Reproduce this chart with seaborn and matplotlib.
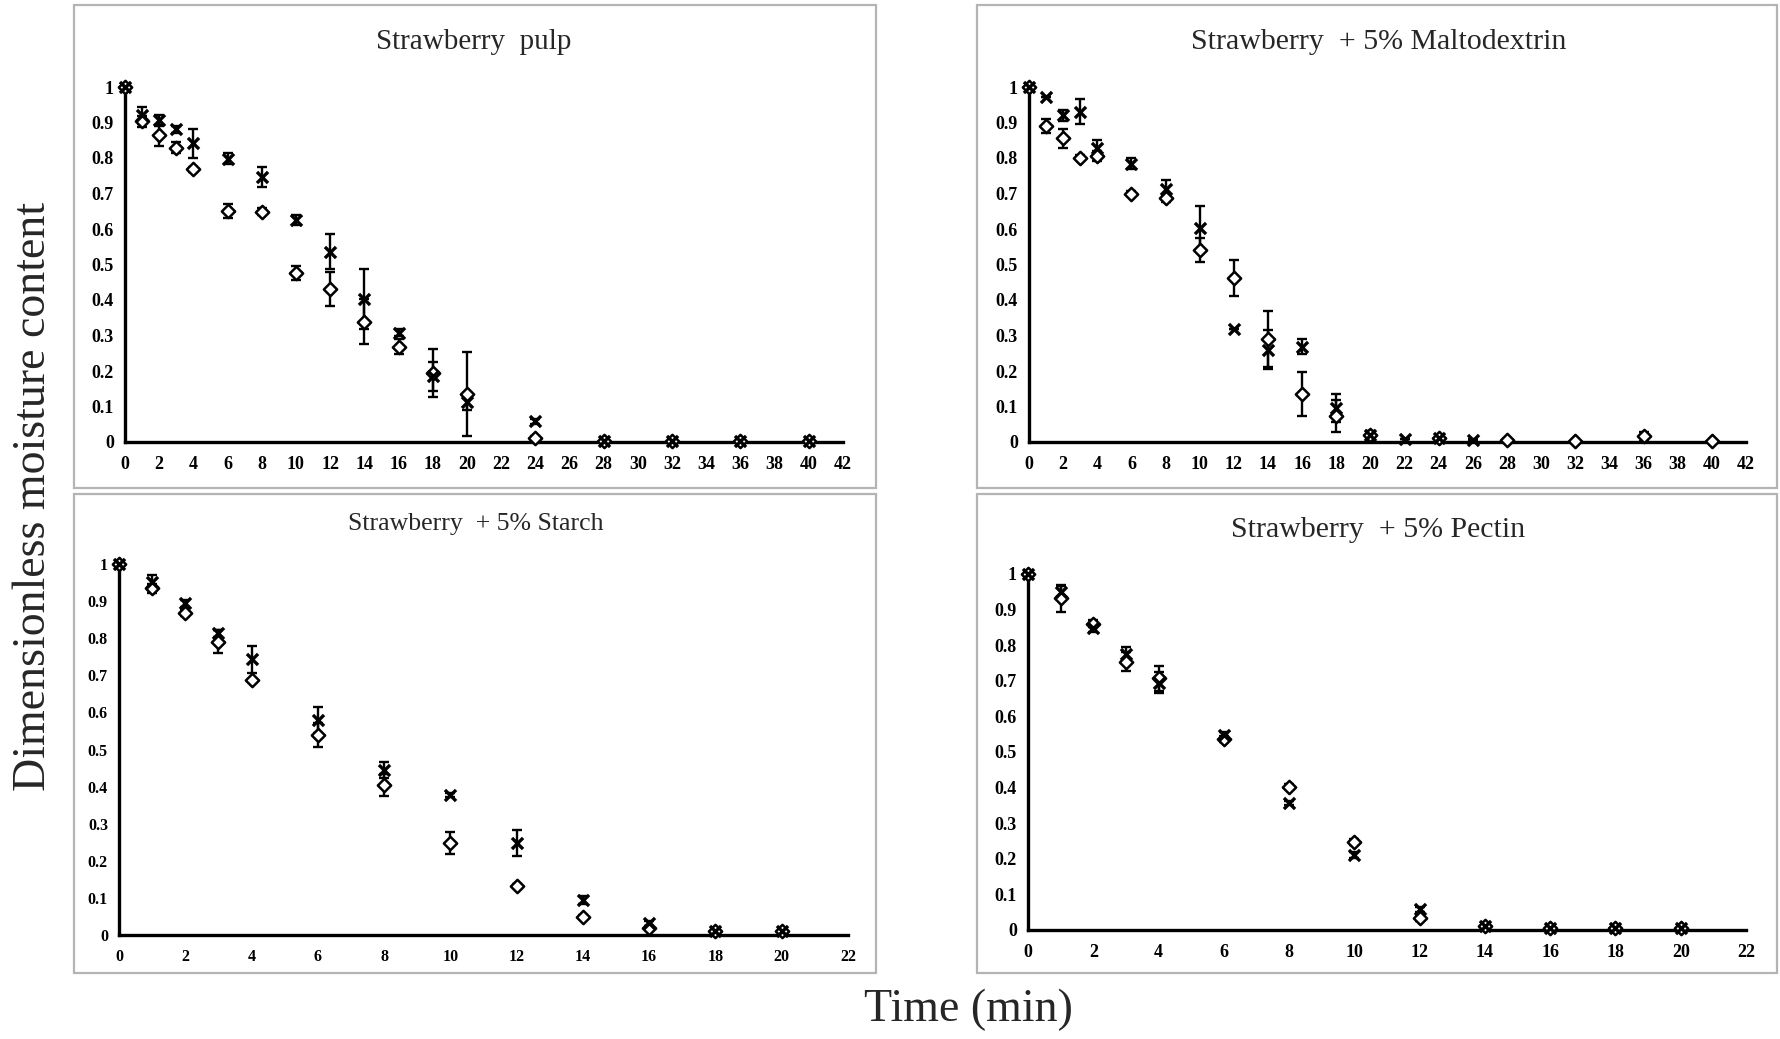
import matplotlib
matplotlib.use("Agg")
import matplotlib.pyplot as plt
from matplotlib.patches import Rectangle
import seaborn as sns
import numpy as np

# ---- data: dimensionless moisture content vs drying time (min) ----
# Strawberry pulp
pulp_t = [0, 1, 2, 3, 4, 6, 8, 10, 12, 14, 16, 18, 20, 24, 28, 32, 36, 40]
pulp_d = [1.0, 0.903, 0.864, 0.829, 0.768, 0.651, 0.649, 0.475, 0.431, 0.339, 0.269, 0.194, 0.136, 0.011, 0.003, 0.002, 0.002, 0.002]
pulp_d_err = [0.005, 0.015, 0.03, 0.015, 0.007, 0.02, 0.01, 0.02, 0.047, 0.063, 0.02, 0.067, 0.118, 0.005, 0.003, 0.002, 0.002, 0.002]
pulp_x = [1.0, 0.92, 0.906, 0.881, 0.841, 0.798, 0.747, 0.625, 0.536, 0.402, 0.308, 0.185, 0.114, 0.058, 0.004, 0.003, 0.003, 0.003]
pulp_x_err = [0.005, 0.025, 0.015, 0.01, 0.04, 0.015, 0.028, 0.015, 0.05, 0.084, 0.01, 0.04, 0.025, 0.008, 0.003, 0.003, 0.003, 0.003]

# Strawberry + 5% Maltodextrin
malto_td = [0, 1, 2, 3, 4, 6, 8, 10, 12, 14, 16, 18, 20, 24, 28, 32, 36, 40]
malto_d = [1.0, 0.890, 0.855, 0.801, 0.806, 0.700, 0.686, 0.541, 0.461, 0.290, 0.135, 0.072, 0.02, 0.01, 0.005, 0.002, 0.016, 0.002]
malto_d_err = [0.005, 0.02, 0.028, 0.008, 0.015, 0.008, 0.01, 0.033, 0.051, 0.08, 0.063, 0.045, 0.01, 0.005, 0.003, 0.002, 0.012, 0.002]
malto_tx = [0, 1, 2, 3, 4, 6, 8, 10, 12, 14, 16, 18, 20, 22, 24, 26]
malto_x = [1.0, 0.972, 0.920, 0.930, 0.827, 0.784, 0.714, 0.602, 0.318, 0.260, 0.269, 0.095, 0.02, 0.008, 0.01, 0.005]
malto_x_err = [0.005, 0.0, 0.015, 0.035, 0.025, 0.015, 0.025, 0.062, 0.0, 0.055, 0.022, 0.04, 0.01, 0.0, 0.005, 0.003]

# Strawberry + 5% Starch
starch_t = [0, 1, 2, 3, 4, 6, 8, 10, 12, 14, 16, 18, 20]
starch_d = [1.0, 0.934, 0.867, 0.791, 0.686, 0.539, 0.404, 0.247, 0.132, 0.049, 0.018, 0.012, 0.012]
starch_d_err = [0.003, 0.012, 0.008, 0.03, 0.005, 0.033, 0.03, 0.03, 0.005, 0.005, 0.005, 0.004, 0.004]
starch_x = [1.0, 0.952, 0.894, 0.813, 0.743, 0.580, 0.445, 0.377, 0.247, 0.094, 0.031, 0.012, 0.012]
starch_x_err = [0.003, 0.018, 0.01, 0.01, 0.036, 0.035, 0.022, 0.005, 0.035, 0.01, 0.008, 0.005, 0.005]

# Strawberry + 5% Pectin
pectin_t = [0, 1, 2, 3, 4, 6, 8, 10, 12, 14, 16, 18, 20]
pectin_d = [1.0, 0.932, 0.860, 0.754, 0.707, 0.536, 0.403, 0.248, 0.033, 0.012, 0.005, 0.005, 0.005]
pectin_d_err = [0.005, 0.038, 0.01, 0.027, 0.035, 0.008, 0.008, 0.008, 0.008, 0.004, 0.003, 0.003, 0.003]
pectin_x = [1.0, 0.95, 0.848, 0.775, 0.695, 0.548, 0.356, 0.211, 0.058, 0.012, 0.005, 0.005, 0.005]
pectin_x_err = [0.005, 0.015, 0.01, 0.02, 0.03, 0.008, 0.005, 0.008, 0.008, 0.004, 0.003, 0.003, 0.003]

titles = ["Strawberry  pulp", "Strawberry  + 5% Maltodextrin",
          "Strawberry  + 5% Starch", "Strawberry  + 5% Pectin"]
y_ticks = [0, 0.1, 0.2, 0.3, 0.4, 0.5, 0.6, 0.7, 0.8, 0.9, 1]

sns.set_style("white")
plt.rcParams["font.family"] = ["Liberation Serif", "DejaVu Serif"]

W, H = 1780, 1039
fig = plt.figure(figsize=(W / 100, H / 100), dpi=100)


def px_rect(x0, y0, x1, y1):
    """Convert pixel box (top-left origin) into figure fraction [l, b, w, h]."""
    return [x0 / W, 1 - y1 / H, (x1 - x0) / W, (y1 - y0) / H]


# panel frames
for (x0, y0, x1, y1) in [(74, 5, 876, 488), (977, 5, 1777, 488),
                         (74, 494, 876, 973), (977, 494, 1777, 973)]:
    fig.patches.append(Rectangle((x0 / W, 1 - y1 / H), (x1 - x0) / W, (y1 - y0) / H,
                                 transform=fig.transFigure, fill=False,
                                 edgecolor="#b4b4b4", linewidth=1.6))

panels = [
    dict(rect=px_rect(125, 87, 843, 442), xmax=42, tsize=13,
         td=pulp_t, d=pulp_d, de=pulp_d_err, tx=pulp_t, x=pulp_x, xe=pulp_x_err),
    dict(rect=px_rect(1029, 87, 1746, 442), xmax=42, tsize=13,
         td=malto_td, d=malto_d, de=malto_d_err, tx=malto_tx, x=malto_x, xe=malto_x_err),
    dict(rect=px_rect(119, 564, 848, 935), xmax=22, tsize=11.5,
         td=starch_t, d=starch_d, de=starch_d_err, tx=starch_t, x=starch_x, xe=starch_x_err),
    dict(rect=px_rect(1028, 574, 1746, 930), xmax=22, tsize=13,
         td=pectin_t, d=pectin_d, de=pectin_d_err, tx=pectin_t, x=pectin_x, xe=pectin_x_err),
]

for p in panels:
    ax = fig.add_axes(p["rect"])
    ax.set_facecolor("none")
    ax.errorbar(p["td"], p["d"], yerr=p["de"], fmt="none", ecolor="black",
                elinewidth=1.7, capsize=3.6, capthick=1.7, clip_on=False, zorder=3)
    ax.errorbar(p["tx"], p["x"], yerr=p["xe"], fmt="none", ecolor="black",
                elinewidth=1.7, capsize=3.6, capthick=1.7, clip_on=False, zorder=3)
    sns.scatterplot(x=p["td"], y=p["d"], marker="D", s=46, facecolor="white",
                    edgecolor="black", linewidth=1.8, ax=ax, clip_on=False, zorder=4)
    sns.scatterplot(x=p["tx"], y=p["x"], marker="x", s=64, color="black",
                    linewidth=2.4, ax=ax, clip_on=False, zorder=5)
    ax.set_xlim(0, p["xmax"])
    ax.set_ylim(0, 1)
    ax.set_xticks(np.arange(0, p["xmax"] + 1, 2))
    ax.set_yticks(y_ticks)
    ax.set_yticklabels([f"{v:g}" for v in y_ticks])
    for side in ("top", "right"):
        ax.spines[side].set_visible(False)
    for side in ("left", "bottom"):
        ax.spines[side].set_linewidth(2.4)
        ax.spines[side].set_color("black")
    ax.tick_params(axis="both", direction="out", length=4, width=1.7,
                   colors="black", labelsize=p["tsize"], pad=4)
    ax.tick_params(axis="x", pad=6)
    for lab in ax.get_xticklabels() + ax.get_yticklabels():
        lab.set_fontweight("bold")
    ax.grid(False)

# panel titles
fig.text(474 / W, 1 - 42 / H, titles[0], ha="center", va="center", fontsize=21)
fig.text(1379 / W, 1 - 42 / H, titles[1], ha="center", va="center", fontsize=21.5)
fig.text(476 / W, 1 - 524 / H, titles[2], ha="center", va="center", fontsize=18.5)
fig.text(1378 / W, 1 - 530 / H, titles[3], ha="center", va="center", fontsize=21.5)

# shared axis labels
fig.text(34 / W, 1 - 496 / H, "Dimensionless moisture content", rotation=90,
         ha="center", va="center", fontsize=33)
fig.text(968 / W, 1 - 1010 / H, "Time (min)", ha="center", va="center", fontsize=33)

fig.savefig("out.png", dpi=100, facecolor="white")
